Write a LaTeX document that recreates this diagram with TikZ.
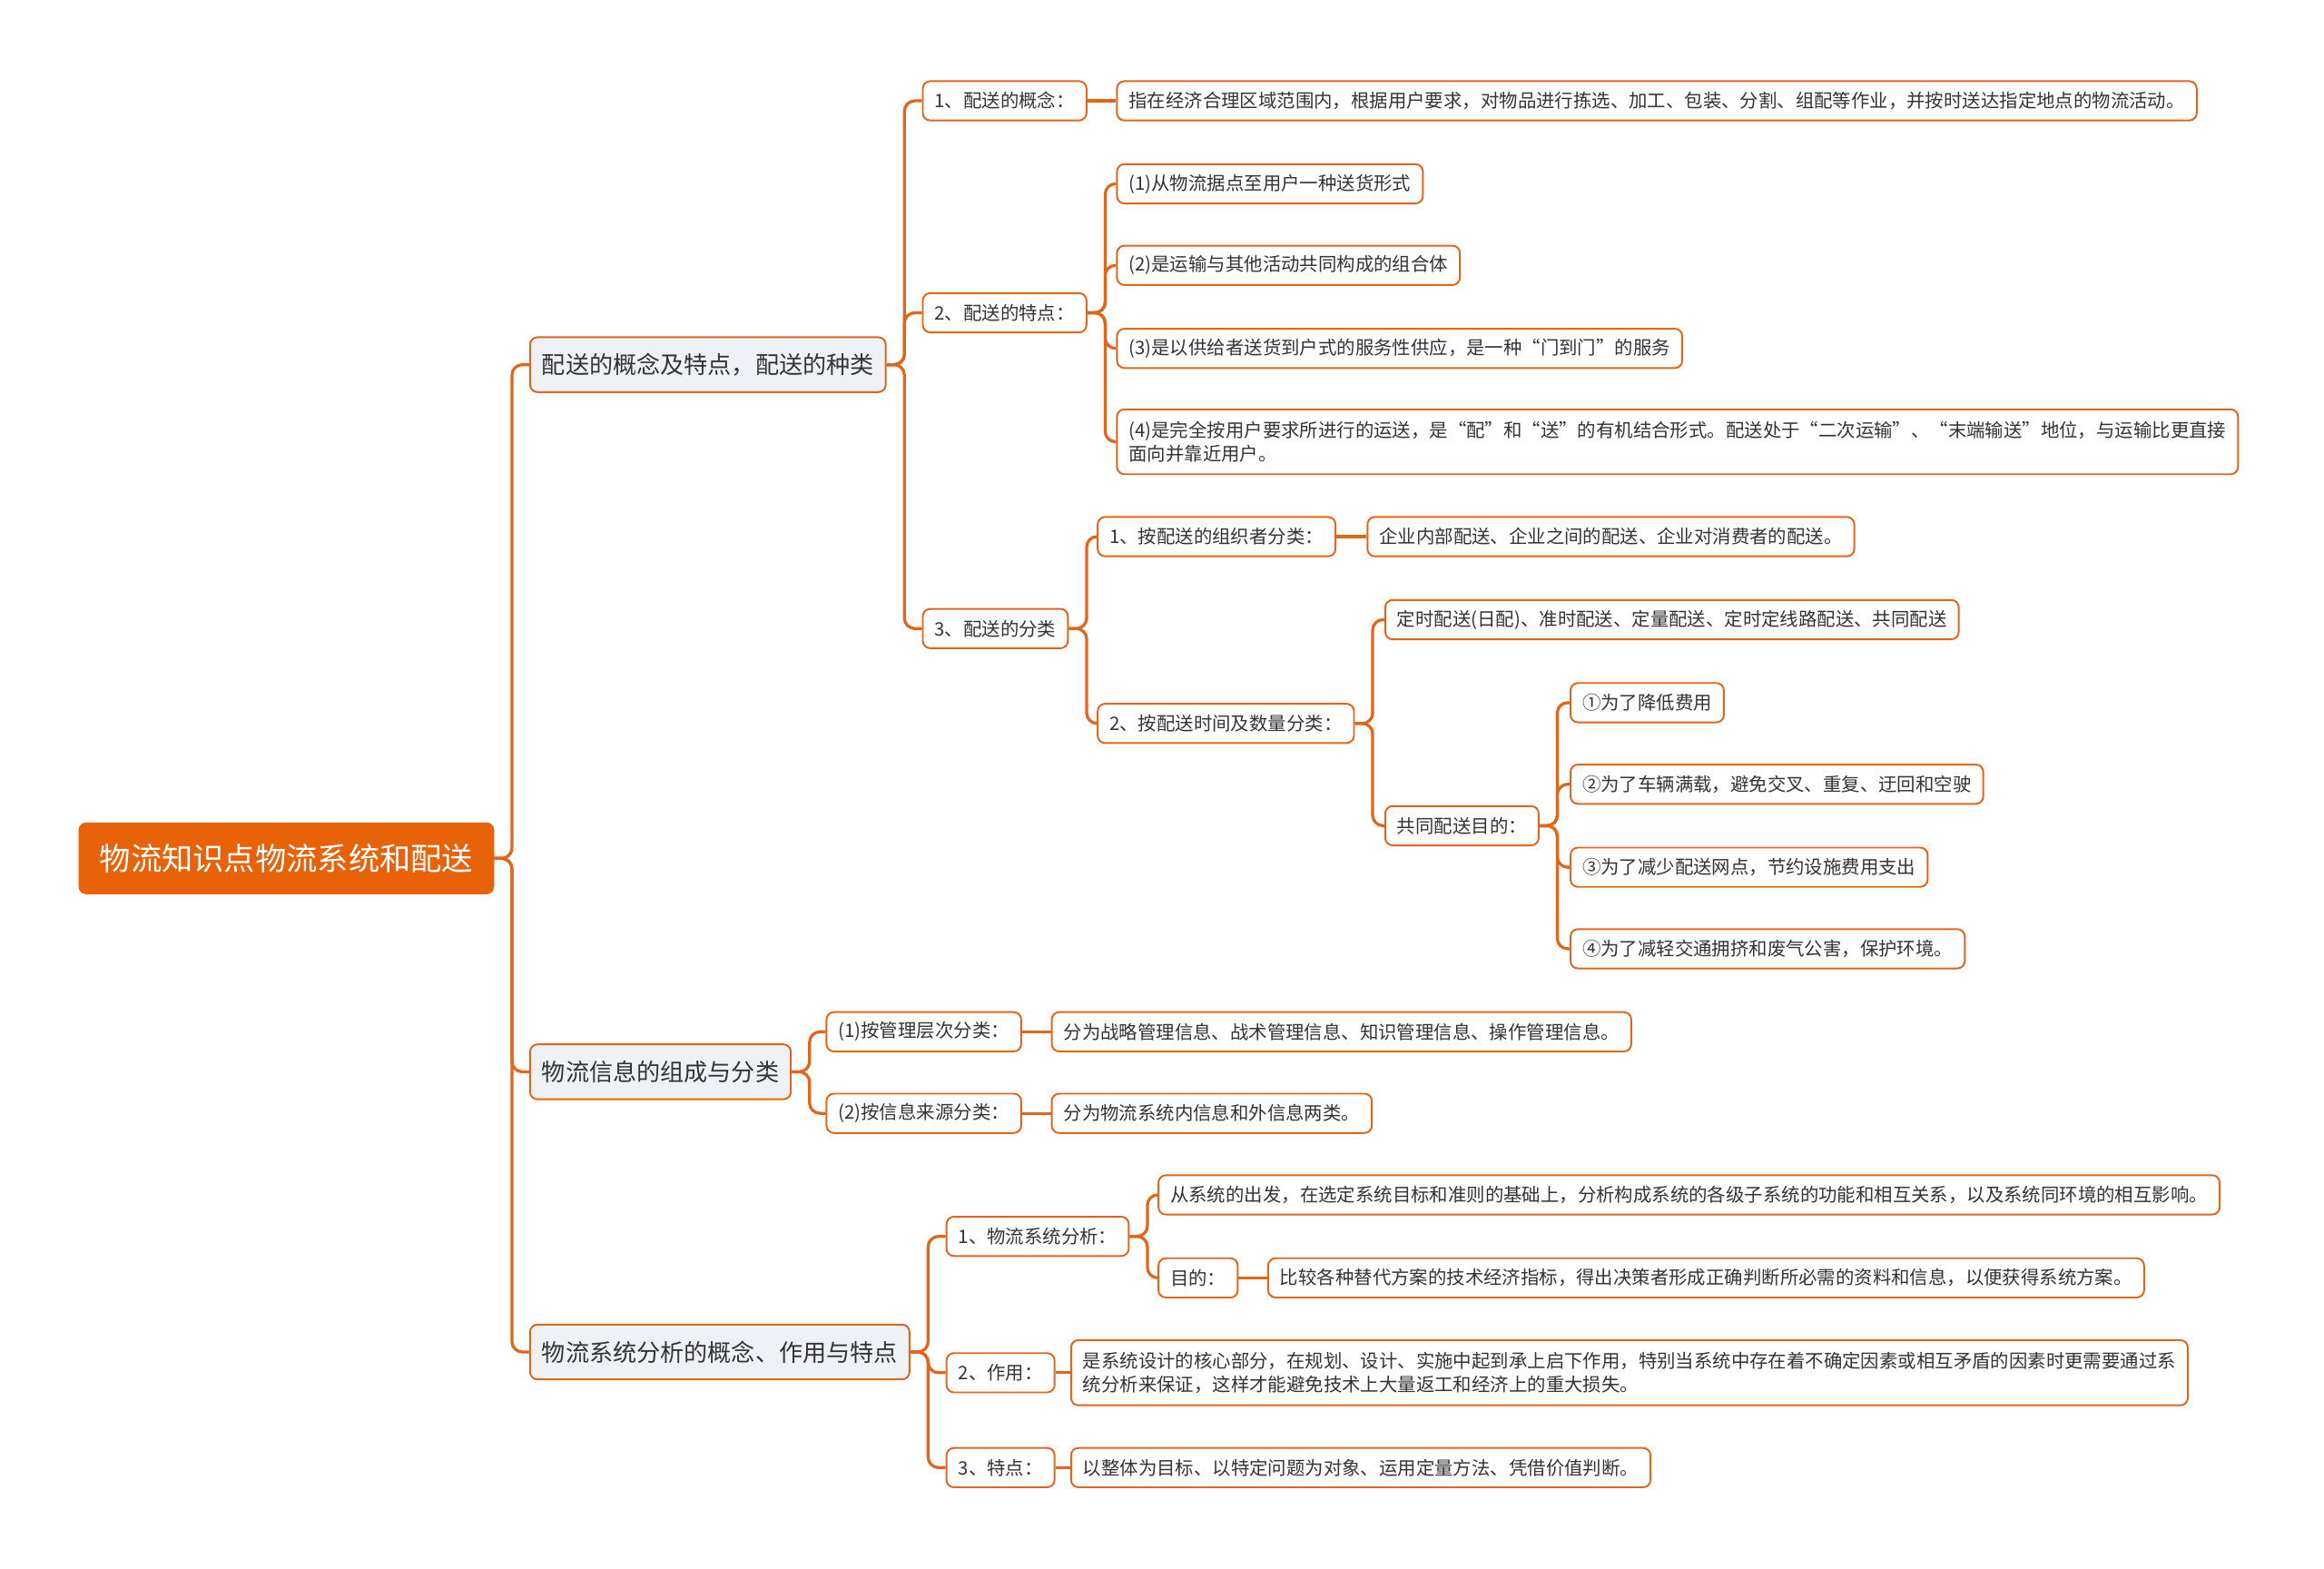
\documentclass[tikz,border=0pt]{standalone}
\usepackage{fontspec}
\setmainfont{Noto Sans CJK SC}
\usepackage{tikz}
\usetikzlibrary{positioning,calc}
\definecolor{rootorange}{HTML}{E8620A}
\definecolor{lineorange}{HTML}{E0661C}
\definecolor{topicgray}{HTML}{EEF1F5}
\definecolor{textgray}{HTML}{333333}
\tikzset{
  rootbox/.style={anchor=west, fill=rootorange, draw=rootorange, rounded corners=5pt, text=white,
    font=\fontsize{21}{25}\selectfont, inner xsep=14pt, minimum height=48pt},
  topicbox/.style={anchor=west, fill=topicgray, draw=lineorange, line width=1.2pt, rounded corners=5pt, text=textgray,
    font=\fontsize{16}{20}\selectfont, inner xsep=8pt, minimum height=37pt},
  leafbox/.style={anchor=west, fill=white, draw=lineorange, line width=1.2pt, rounded corners=5pt, text=textgray,
    font=\fontsize{12.5}{16}\selectfont, inner xsep=8pt, inner ysep=6pt, minimum height=26.5pt},
  twoline/.style={align=left, inner ysep=8pt},
  conn/.style={draw=lineorange, line width=2pt, rounded corners=7pt},
}

\begin{document}
\begin{tikzpicture}[x=1pt,y=-1pt]
\useasboundingbox (0,0) rectangle (1568,1058);

%Root
\node[rootbox] (root) at (53,579) {物流知识点物流系统和配送};

%Topics
\node[topicbox] (peisong) at (357,246) {配送的概念及特点，配送的种类};
\node[topicbox] (xinxi) at (357,723) {物流信息的组成与分类};
\node[topicbox] (fenxi) at (357,912) {物流系统分析的概念、作用与特点};

%Peisong
\node[leafbox] (gainian) at (622,68) {1、配送的概念：};
\node[leafbox] (gainiantxt) at (753,68) {指在经济合理区域范围内，根据用户要求，对物品进行拣选、加工、包装、分割、组配等作业，并按时送达指定地点的物流活动。};
\node[leafbox] (tedian) at (622,211) {2、配送的特点：};
\node[leafbox] (td1) at (753,124) {(1)从物流据点至用户一种送货形式};
\node[leafbox] (td2) at (753,179) {(2)是运输与其他活动共同构成的组合体};
\node[leafbox] (td3) at (753,235) {(3)是以供给者送货到户式的服务性供应，是一种“门到门”的服务};
\node[leafbox, twoline] (td4) at (753,298) {(4)是完全按用户要求所进行的运送，是“配”和“送”的有机结合形式。配送处于“二次运输”、“末端输送”地位，与运输比更直接\\面向并靠近用户。};
\node[leafbox] (fenlei) at (622,424) {3、配送的分类};
\node[leafbox] (zuzhi) at (740,362) {1、按配送的组织者分类：};
\node[leafbox] (zuzhitxt) at (922,362) {企业内部配送、企业之间的配送、企业对消费者的配送。};
\node[leafbox] (shijian) at (740,488) {2、按配送时间及数量分类：};
\node[leafbox] (shijiantxt) at (934,418) {定时配送(日配)、准时配送、定量配送、定时定线路配送、共同配送};
\node[leafbox] (gongtong) at (934,557) {共同配送目的：};
\node[leafbox] (md1) at (1059,474) {①为了降低费用};
\node[leafbox] (md2) at (1059,529) {②为了车辆满载，避免交叉、重复、迂回和空驶};
\node[leafbox] (md3) at (1059,585) {③为了减少配送网点，节约设施费用支出};
\node[leafbox] (md4) at (1059,640) {④为了减轻交通拥挤和废气公害，保护环境。};

%Xinxi
\node[leafbox] (cengci) at (557,696) {(1)按管理层次分类：};
\node[leafbox] (cengcitxt) at (709,696) {分为战略管理信息、战术管理信息、知识管理信息、操作管理信息。};
\node[leafbox] (laiyuan) at (557,751) {(2)按信息来源分类：};
\node[leafbox] (laiyuantxt) at (709,751) {分为物流系统内信息和外信息两类。};

%Fenxi
\node[leafbox] (xtfx) at (638,834) {1、物流系统分析：};
\node[leafbox] (xtfxtxt) at (781,806) {从系统的出发，在选定系统目标和准则的基础上，分析构成系统的各级子系统的功能和相互关系，以及系统同环境的相互影响。};
\node[leafbox] (mudi) at (781,862) {目的：};
\node[leafbox] (muditxt) at (855,862) {比较各种替代方案的技术经济指标，得出决策者形成正确判断所必需的资料和信息，以便获得系统方案。};
\node[leafbox] (zuoyong) at (638,926) {2、作用：};
\node[leafbox, twoline] (zuoyongtxt) at (722,926) {是系统设计的核心部分，在规划、设计、实施中起到承上启下作用，特别当系统中存在着不确定因素或相互矛盾的因素时更需要通过系\\统分析来保证，这样才能避免技术上大量返工和经济上的重大损失。};
\node[leafbox] (tedian3) at (638,990) {3、特点：};
\node[leafbox] (tedian3txt) at (722,990) {以整体为目标、以特定问题为对象、运用定量方法、凭借价值判断。};

%Connectors
\draw[conn] (root.east) -- ++(12,0) |- (peisong.west);
\draw[conn] (root.east) -- ++(12,0) |- (xinxi.west);
\draw[conn] (root.east) -- ++(12,0) |- (fenxi.west);

\draw[conn] (peisong.east) -- ++(12,0) |- (gainian.west);
\draw[conn] (peisong.east) -- ++(12,0) |- (tedian.west);
\draw[conn] (peisong.east) -- ++(12,0) |- (fenlei.west);
\draw[conn] (gainian.east) -- (gainiantxt.west);
\draw[conn] (tedian.east) -- ++(12,0) |- (td1.west);
\draw[conn] (tedian.east) -- ++(12,0) |- (td2.west);
\draw[conn] (tedian.east) -- ++(12,0) |- (td3.west);
\draw[conn] (tedian.east) -- ++(12,0) |- (td4.west);
\draw[conn] (fenlei.east) -- ++(12,0) |- (zuzhi.west);
\draw[conn] (fenlei.east) -- ++(12,0) |- (shijian.west);
\draw[conn] (zuzhi.east) -- (zuzhitxt.west);
\draw[conn] (shijian.east) -- ++(12,0) |- (shijiantxt.west);
\draw[conn] (shijian.east) -- ++(12,0) |- (gongtong.west);
\draw[conn] (gongtong.east) -- ++(12,0) |- (md1.west);
\draw[conn] (gongtong.east) -- ++(12,0) |- (md2.west);
\draw[conn] (gongtong.east) -- ++(12,0) |- (md3.west);
\draw[conn] (gongtong.east) -- ++(12,0) |- (md4.west);

\draw[conn] (xinxi.east) -- ++(12,0) |- (cengci.west);
\draw[conn] (xinxi.east) -- ++(12,0) |- (laiyuan.west);
\draw[conn] (cengci.east) -- (cengcitxt.west);
\draw[conn] (laiyuan.east) -- (laiyuantxt.west);

\draw[conn] (fenxi.east) -- ++(12,0) |- (xtfx.west);
\draw[conn] (fenxi.east) -- ++(12,0) |- (zuoyong.west);
\draw[conn] (fenxi.east) -- ++(12,0) |- (tedian3.west);
\draw[conn] (xtfx.east) -- ++(12,0) |- (xtfxtxt.west);
\draw[conn] (xtfx.east) -- ++(12,0) |- (mudi.west);
\draw[conn] (mudi.east) -- (muditxt.west);
\draw[conn] (zuoyong.east) -- (zuoyongtxt.west);
\draw[conn] (tedian3.east) -- (tedian3txt.west);
\end{tikzpicture}
\end{document}
